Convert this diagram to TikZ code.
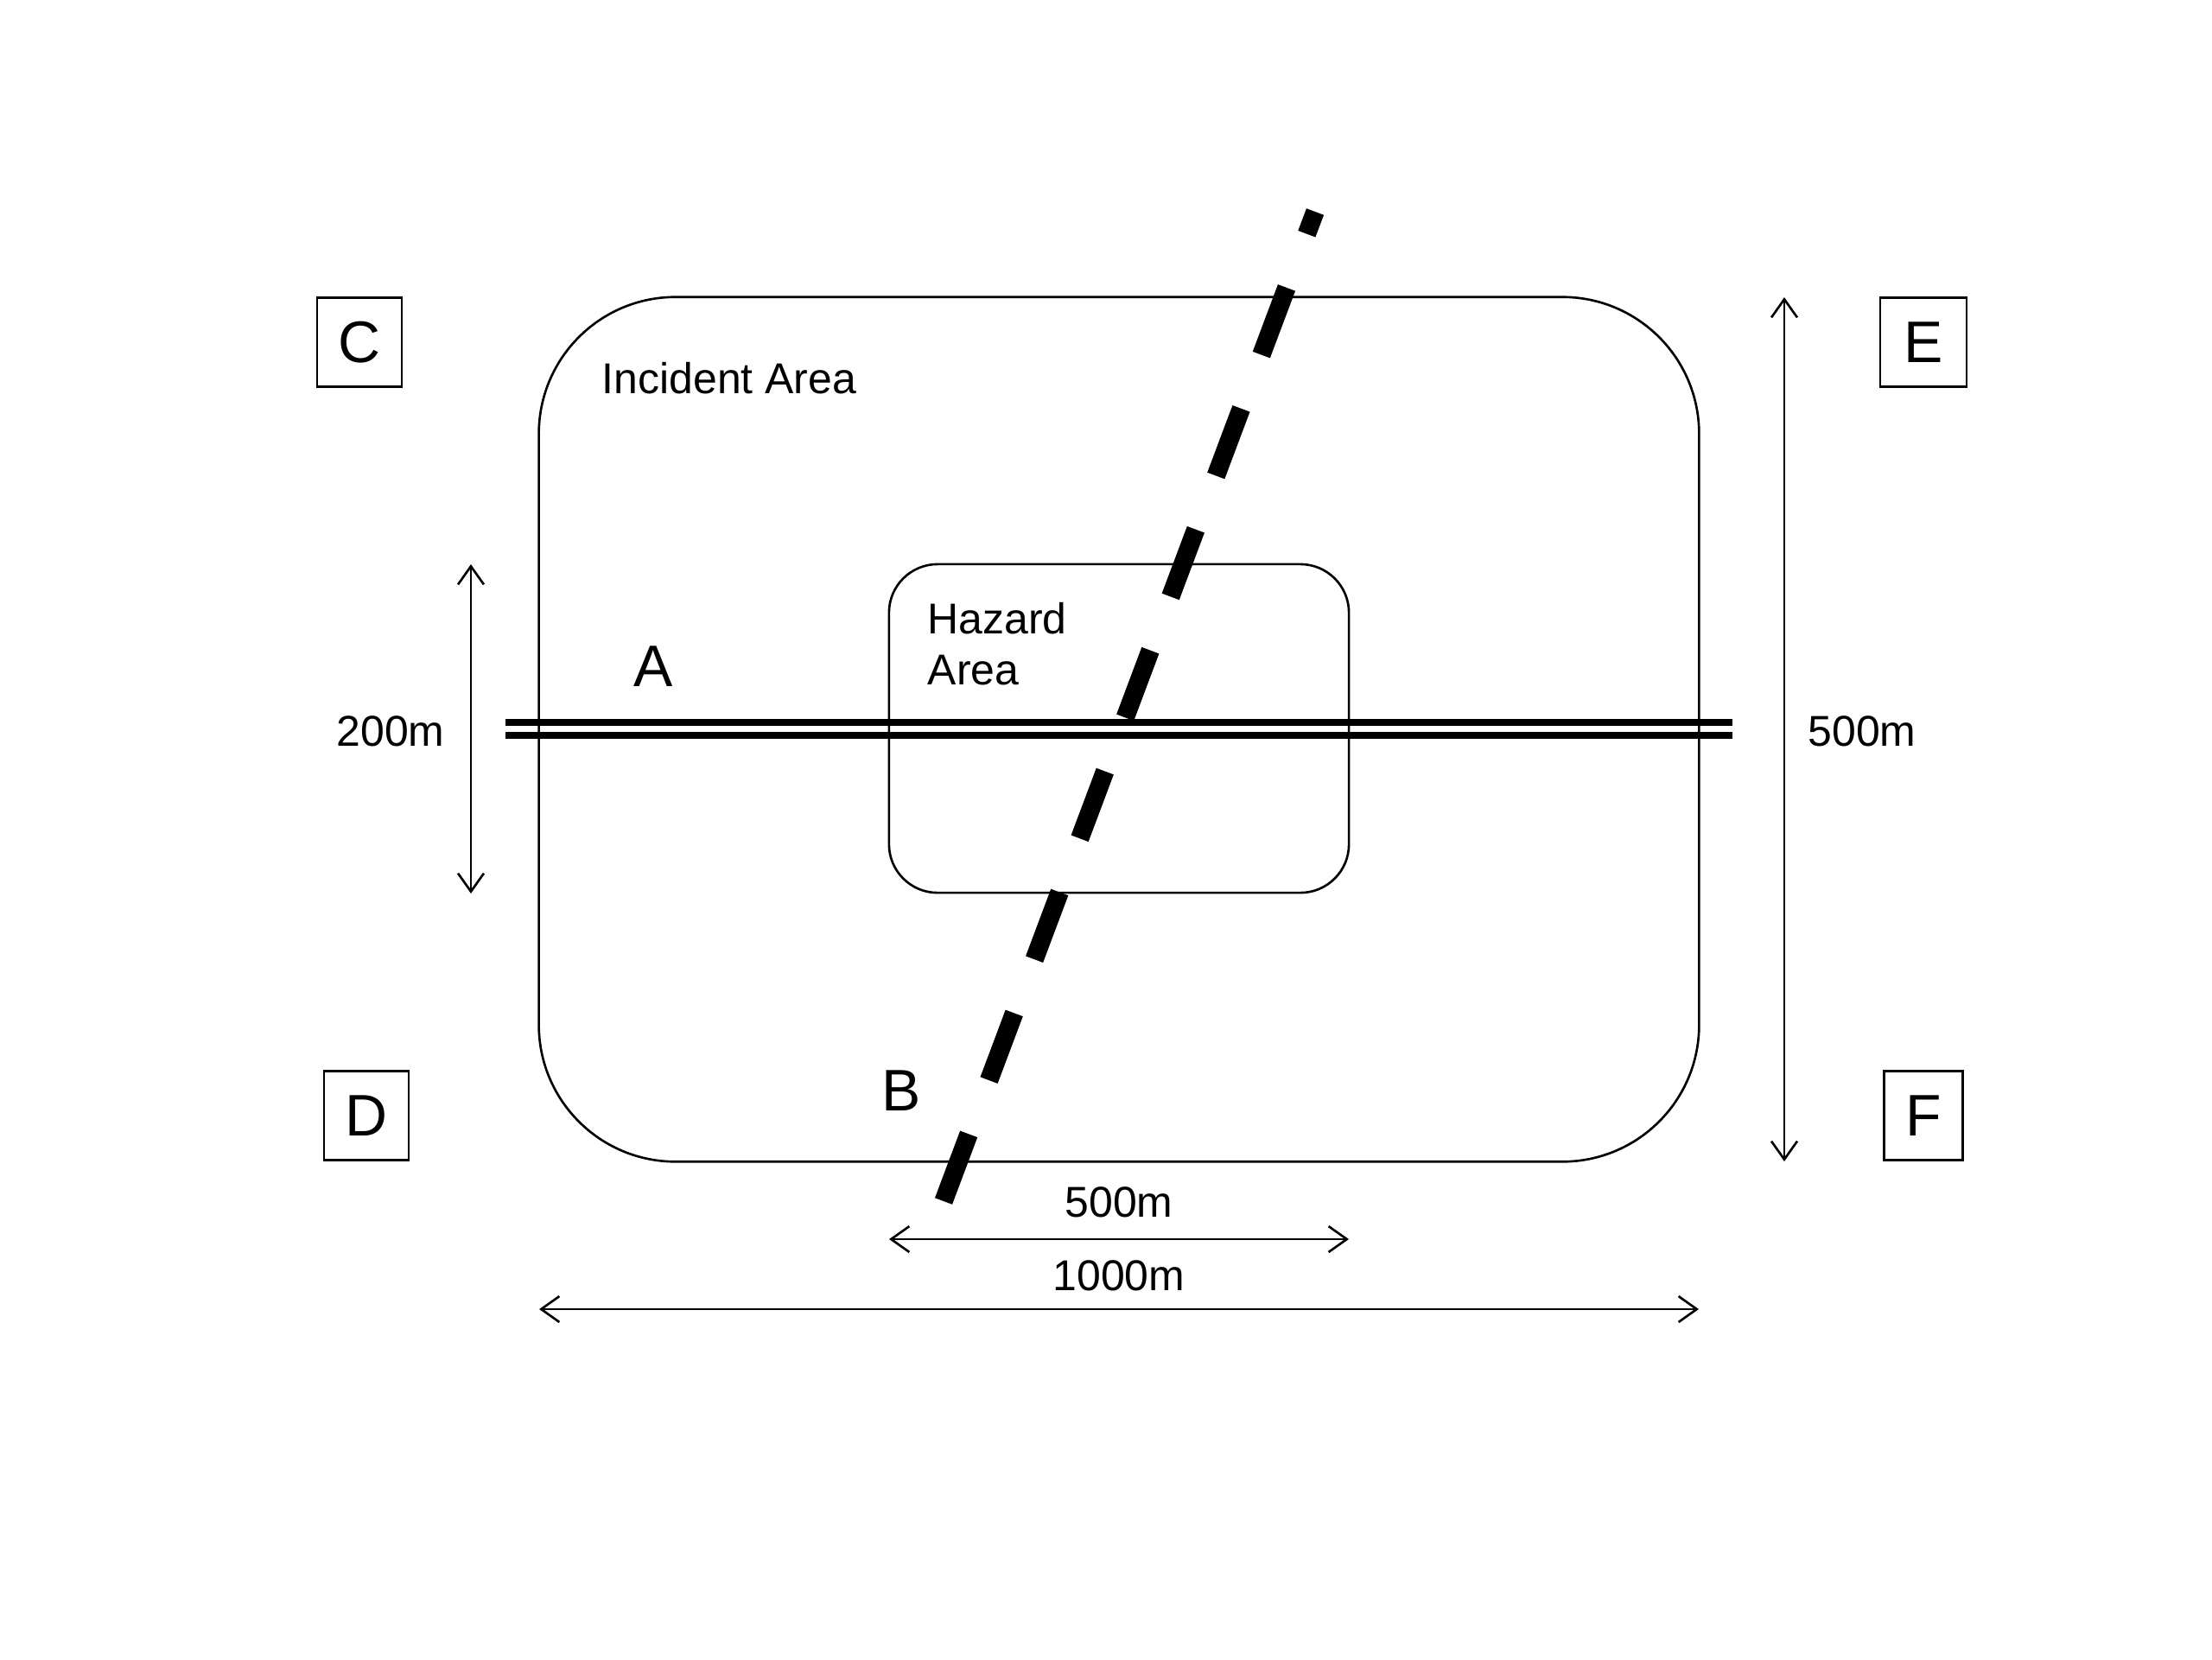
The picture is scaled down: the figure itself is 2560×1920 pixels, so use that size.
\documentclass[tikz,border=0pt]{standalone}
\usepackage{fontspec}
\setmainfont{Liberation Sans}
\usetikzlibrary{arrows.meta}
\begin{document}
\begin{tikzpicture}[x=0.01cm,y=-0.01cm,
  area/.style={draw, line width=0.75pt, rounded corners=#1, inner sep=0pt},
  letterbox/.style={draw, line width=0.8pt, inner sep=0pt, font=\fontsize{19.3}{22}\selectfont},
  lbl/.style={font=\fontsize{14.2}{17}\selectfont, inner sep=0pt},
  biglbl/.style={font=\fontsize{19.3}{22}\selectfont, inner sep=0pt},
  dim/.style={line width=0.75pt, {Straight Barb[length=6pt,width=8.5pt]}-{Straight Barb[length=6pt,width=8.5pt]}},
  rail/.style={line width=2.4pt},
  track/.style={line width=6.1pt, dash pattern=on 23.6pt off 18.9pt}
]
\useasboundingbox (0,0) rectangle (2560,1920);
% areas
\node[area=45pt, minimum width=13.42cm, minimum height=10.0cm] (incident) at (1295,844) {};
\node[area=16pt, minimum width=5.32cm, minimum height=3.80cm] (hazard) at (1295,843) {};
% letter boxes
\node[letterbox, minimum width=0.98cm, minimum height=1.03cm] (C) at (416,396) {C};
\node[letterbox, minimum width=0.98cm, minimum height=1.03cm] (D) at (424,1291) {D};
\node[letterbox, minimum width=1.00cm, minimum height=1.03cm] (E) at (2226,396) {E};
\node[letterbox, minimum width=0.91cm, minimum height=1.03cm] (F) at (2226,1291) {F};
% rails (double line)
\coordinate (railL1) at (585,836); \coordinate (railR1) at (2005,836);
\coordinate (railL2) at (585,851); \coordinate (railR2) at (2005,851);
\draw[rail] (railL1) -- (railR1);
\draw[rail] (railL2) -- (railR2);
% dashed track
\coordinate (trackB) at (1092,1390);
\coordinate (trackT) at (1522,245);
\draw[track] (trackB) -- (trackT);
% labels
\node[lbl] (inclbl) at (844,438) {Incident Area};
\node[lbl, anchor=west] (haz1) at (1073,716) {Hazard};
\node[lbl, anchor=west] (haz2) at (1073,776) {Area};
\node[biglbl] (A) at (756,771) {A};
\node[biglbl] (B) at (1043,1262) {B};
% dimension lines
\coordinate (l200t) at (545,653); \coordinate (l200b) at (545,1034);
\draw[dim] (l200t) -- (l200b);
\node[lbl] (t200) at (452,846) {200m};
\coordinate (r500t) at (2065,344); \coordinate (r500b) at (2065,1344);
\draw[dim] (r500t) -- (r500b);
\node[lbl] (tr500) at (2155,846) {500m};
\coordinate (b500l) at (1029,1434); \coordinate (b500r) at (1561,1434);
\draw[dim] (b500l) -- (b500r);
\node[lbl] (tb500) at (1295,1391) {500m};
\coordinate (b1000l) at (624,1515); \coordinate (b1000r) at (1966,1515);
\draw[dim] (b1000l) -- (b1000r);
\node[lbl] (tb1000) at (1295,1476) {1000m};
\end{tikzpicture}
\end{document}
